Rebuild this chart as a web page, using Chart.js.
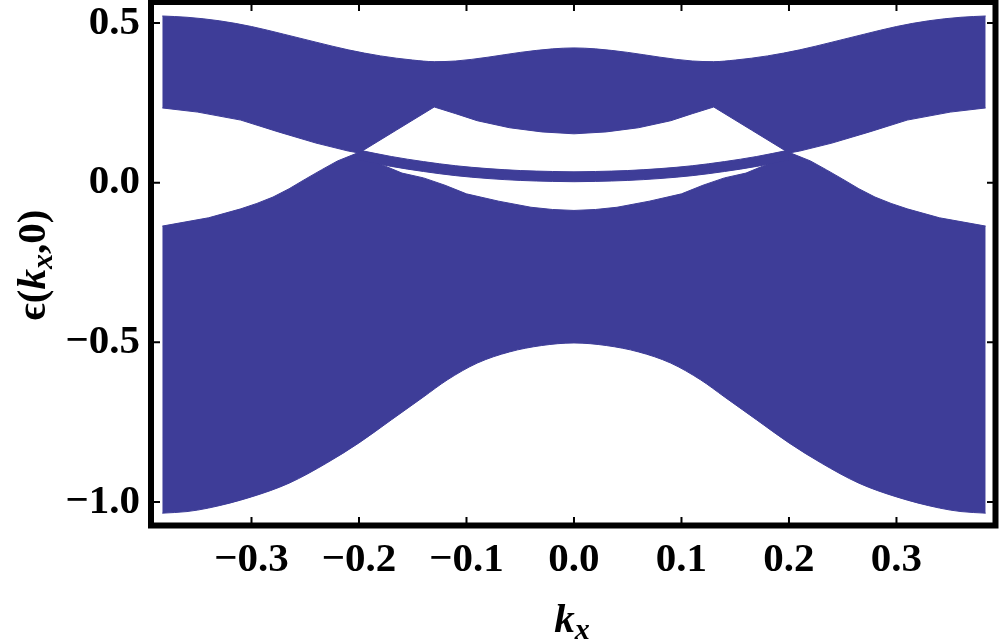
<!DOCTYPE html>
<html>
<head>
<meta charset="utf-8">
<script src="https://cdn.jsdelivr.net/npm/chart.js@4.4.1/dist/chart.umd.min.js"></script>
<style>
  html, body { margin: 0; padding: 0; background: #fff; }
</style>
</head>
<body>
<canvas id="bandChart" width="1000" height="644"></canvas>
<script>
// band edges: kx positions and energy values
const upperTopKx = [-0.383, -0.36, -0.33, -0.30, -0.27, -0.24, -0.21, -0.18, -0.15, -0.13, -0.11, -0.08, -0.05, -0.02, 0, 0.02, 0.05, 0.08, 0.11, 0.13, 0.15, 0.18, 0.21, 0.24, 0.27, 0.30, 0.33, 0.36, 0.383];
const upperTop = [0.522, 0.518, 0.507, 0.489, 0.465, 0.440, 0.416, 0.397, 0.384, 0.379, 0.381, 0.393, 0.408, 0.419, 0.422, 0.419, 0.408, 0.393, 0.381, 0.379, 0.384, 0.397, 0.416, 0.440, 0.465, 0.489, 0.507, 0.518, 0.522];

const upperBottomKx = [-0.383, -0.35, -0.31, -0.275, -0.24, -0.21, -0.20, -0.165, -0.13, -0.11, -0.09, -0.06, -0.03, 0, 0.03, 0.06, 0.09, 0.11, 0.13, 0.165, 0.20, 0.21, 0.24, 0.275, 0.31, 0.35, 0.383];
const upperBottom = [0.234, 0.221, 0.196, 0.159, 0.124, 0.099, 0.093, 0.165, 0.237, 0.216, 0.194, 0.172, 0.159, 0.153, 0.159, 0.172, 0.194, 0.216, 0.237, 0.165, 0.093, 0.099, 0.124, 0.159, 0.196, 0.221, 0.234];

const edgeKx = [-0.20, -0.17, -0.14, -0.11, -0.08, -0.05, -0.02, 0, 0.02, 0.05, 0.08, 0.11, 0.14, 0.17, 0.20];
const edgeTop = [0.102, 0.082, 0.066, 0.053, 0.044, 0.038, 0.035, 0.034, 0.035, 0.038, 0.044, 0.053, 0.066, 0.082, 0.102];
const edgeBottom = [0.071, 0.051, 0.035, 0.022, 0.013, 0.007, 0.004, 0.003, 0.004, 0.007, 0.013, 0.022, 0.035, 0.051, 0.071];

const lowerTopKx = [-0.383, -0.34, -0.31, -0.295, -0.28, -0.265, -0.25, -0.235, -0.22, -0.20, -0.18, -0.16, -0.14, -0.12, -0.10, -0.07, -0.04, -0.02, 0, 0.02, 0.04, 0.07, 0.10, 0.12, 0.14, 0.16, 0.18, 0.20, 0.22, 0.235, 0.25, 0.265, 0.28, 0.295, 0.31, 0.34, 0.383];
const lowerTop = [-0.136, -0.110, -0.082, -0.065, -0.045, -0.019, 0.011, 0.040, 0.068, 0.095, 0.058, 0.030, 0.015, -0.008, -0.035, -0.058, -0.077, -0.084, -0.087, -0.084, -0.077, -0.058, -0.035, -0.008, 0.015, 0.030, 0.058, 0.095, 0.068, 0.040, 0.011, -0.019, -0.045, -0.065, -0.082, -0.110, -0.136];

const lowerBottomKx = [-0.383, -0.36, -0.34, -0.30, -0.265, -0.23, -0.20, -0.17, -0.14, -0.118, -0.09, -0.06, -0.03, 0, 0.03, 0.06, 0.09, 0.118, 0.14, 0.17, 0.20, 0.23, 0.265, 0.30, 0.34, 0.36, 0.383];
const lowerBottom = [-1.035, -1.030, -1.019, -0.984, -0.941, -0.878, -0.815, -0.743, -0.671, -0.618, -0.565, -0.530, -0.510, -0.502, -0.510, -0.530, -0.565, -0.618, -0.671, -0.743, -0.815, -0.878, -0.941, -0.984, -1.019, -1.030, -1.035];

const xTicks = [-0.3, -0.2, -0.1, 0.0, 0.1, 0.2, 0.3];
const yTicks = [-1.0, -0.5, 0.0, 0.5];

const bandColor = 'rgb(62,61,152)';
const serif = '"Liberation Serif", "Times New Roman", serif';

function pts(kx, vals) {
    return kx.map((k, i) => ({ x: k, y: vals[i] }));
}

// smooth edges get monotone curves, edges with kinks stay straight
function edge(label, kx, vals, fill, smooth) {
    return {
        label: label,
        data: pts(kx, vals),
        borderColor: bandColor,
        backgroundColor: bandColor,
        borderWidth: 1,
        pointRadius: 0,
        tension: 0,
        cubicInterpolationMode: smooth ? 'monotone' : 'default',
        fill: fill
    };
}

function fmt(v) {
    const s = Math.abs(v).toFixed(1);
    return v < -1e-9 ? '\u2212' + s : s;
}

// text runs with italic k and subscript x
function drawRuns(ctx, runs, cx, baseY) {
    let total = 0;
    runs.forEach(r => { ctx.font = r.font; total += ctx.measureText(r.text).width; });
    let x = cx - total / 2;
    ctx.textAlign = 'left';
    ctx.textBaseline = 'alphabetic';
    runs.forEach(r => {
        ctx.font = r.font;
        ctx.fillText(r.text, x, baseY + (r.dy || 0));
        x += ctx.measureText(r.text).width;
    });
}

const frameAndTitles = {
    id: 'frameAndTitles',
    afterDraw(chart) {
        const { ctx, chartArea: ca, scales } = chart;
        ctx.save();
        ctx.strokeStyle = '#000';
        ctx.fillStyle = '#000';

        ctx.lineWidth = 6;
        ctx.strokeRect(ca.left - 3, ca.top - 3, ca.width + 5.5, ca.height + 5.5);

        ctx.lineWidth = 2;
        ctx.beginPath();
        xTicks.forEach(v => {
            const px = scales.x.getPixelForValue(v);
            ctx.moveTo(px, ca.bottom); ctx.lineTo(px, ca.bottom - 6);
            ctx.moveTo(px, ca.top); ctx.lineTo(px, ca.top + 6);
        });
        yTicks.forEach(v => {
            const py = scales.y.getPixelForValue(v);
            ctx.moveTo(ca.left, py); ctx.lineTo(ca.left + 6, py);
            ctx.moveTo(ca.right, py); ctx.lineTo(ca.right - 6, py);
        });
        ctx.stroke();

        const big = 'bold 41px ' + serif;
        const bigIt = 'italic bold 41px ' + serif;
        const sub = 'italic bold 30px ' + serif;

        drawRuns(ctx, [
            { text: 'k', font: bigIt },
            { text: 'x', font: sub, dy: 7 }
        ], 572, 632);

        ctx.translate(45, 265);
        ctx.rotate(-Math.PI / 2);
        drawRuns(ctx, [
            { text: '\u03F5(', font: big },
            { text: 'k', font: bigIt },
            { text: 'x', font: sub, dy: 7 },
            { text: ',0)', font: big }
        ], 0, 0);
        ctx.restore();
    }
};

function noPad(s) {
    s.paddingTop = 0;
    s.paddingBottom = 0;
    s.paddingLeft = 0;
    s.paddingRight = 0;
}

const ctx = document.getElementById('bandChart').getContext('2d');

const chart = new Chart(ctx, {
    type: 'line',
    data: {
        datasets: [
            edge('upper top', upperTopKx, upperTop, '+1', true),
            edge('upper bottom', upperBottomKx, upperBottom, false, false),
            edge('edge top', edgeKx, edgeTop, '+1', true),
            edge('edge bottom', edgeKx, edgeBottom, false, true),
            edge('lower top', lowerTopKx, lowerTop, '+1', false),
            edge('lower bottom', lowerBottomKx, lowerBottom, false, true)
        ]
    },
    options: {
        responsive: false,
        animation: false,
        devicePixelRatio: 1,
        layout: { padding: { top: 5, right: 7, left: 0, bottom: 0 } },
        plugins: {
            legend: { display: false },
            tooltip: { enabled: false }
        },
        scales: {
            x: {
                type: 'linear',
                min: -0.3907,
                max: 0.3898,
                afterBuildTicks: s => { s.ticks = xTicks.map(v => ({ value: v })); },
                afterFit: s => { s.height = 121; noPad(s); },
                ticks: {
                    callback: v => fmt(v),
                    color: '#000',
                    padding: 13,
                    maxRotation: 0,
                    autoSkip: false,
                    font: { family: serif, size: 41, weight: 'bold' }
                },
                grid: { display: false, drawTicks: false },
                border: { display: false }
            },
            y: {
                type: 'linear',
                min: -1.0658,
                max: 0.5564,
                afterBuildTicks: s => { s.ticks = yTicks.map(v => ({ value: v })); },
                afterFit: s => { s.width = 154; noPad(s); },
                ticks: {
                    callback: v => fmt(v),
                    color: '#000',
                    padding: 14,
                    autoSkip: false,
                    font: { family: serif, size: 41, weight: 'bold' }
                },
                grid: { display: false, drawTicks: false },
                border: { display: false }
            }
        }
    },
    plugins: [frameAndTitles]
});
</script>
</body>
</html>
